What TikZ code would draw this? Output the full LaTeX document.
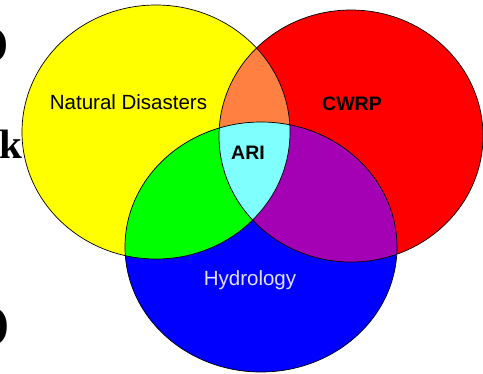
\documentclass[tikz,border=0pt]{standalone}
\usepackage{fontspec}
\setmainfont{Liberation Serif}
\setsansfont{Liberation Sans}
\definecolor{vennyellow}{HTML}{FFFF00}
\definecolor{vennred}{HTML}{FF0000}
\definecolor{vennblue}{HTML}{0000FF}
\definecolor{vennorange}{HTML}{FF8040}
\definecolor{venngreen}{HTML}{00FF00}
\definecolor{vennpurple}{HTML}{A400B4}
\definecolor{venncyan}{HTML}{80FFFF}
\definecolor{hydrotext}{HTML}{E0E0FF}
\tikzset{
    set label/.style={font=\sffamily\fontsize{20.5}{20.5}\selectfont, inner sep=0pt, anchor=base},
    bold label/.style={set label, font=\sffamily\bfseries\fontsize{19.5}{19.5}\selectfont},
    cut glyph/.style={font=\bfseries\fontsize{#1}{#1}\selectfont, inner sep=0pt},
    venn line/.style={draw=black, line width=0.7pt}
}
\newcommand{\yellowset}{(156,132) ellipse [x radius=134, y radius=127]}
\newcommand{\redset}{(351,136) ellipse [x radius=132, y radius=126]}
\newcommand{\blueset}{(261,247) ellipse [x radius=136, y radius=125]}

\begin{document}
\begin{tikzpicture}[x=1pt,y=-1pt]
\useasboundingbox (0,0) rectangle (483,373);
\clip (0,0) rectangle (483,373);

% the three sets
\fill[vennyellow] \yellowset;
\fill[vennred] \redset;
\fill[vennblue] \blueset;

% two at a time
\begin{scope}
\clip \yellowset;
\fill[vennorange] \redset;
\fill[venngreen] \blueset;
\end{scope}
\begin{scope}
\clip \redset;
\fill[vennpurple] \blueset;
\end{scope}

% all three
\begin{scope}
\clip \yellowset;
\clip \redset;
\fill[venncyan] \blueset;
\end{scope}

% outlines
\draw[venn line] \yellowset;
\draw[venn line] \redset;
\draw[venn line] \blueset;

% labels
\node[set label] (natural) at (128.5,109) {Natural Disasters};
\node[bold label] (cwrp) at (352,110) {CWRP};
\node[bold label] (ari) at (248,159) {ARI};
\node[set label, text=hydrotext] (hydrology) at (250,285) {Hydrology};

% text cut off at the left edge
\node[cut glyph=52, anchor=base east] (topcut) at (9,62) {O};
\node[cut glyph=41, anchor=base west] (kcut) at (-1,158) {k};
\node[cut glyph=60, anchor=base east] (bottomcut) at (10,346) {O};
\end{tikzpicture}
\end{document}
